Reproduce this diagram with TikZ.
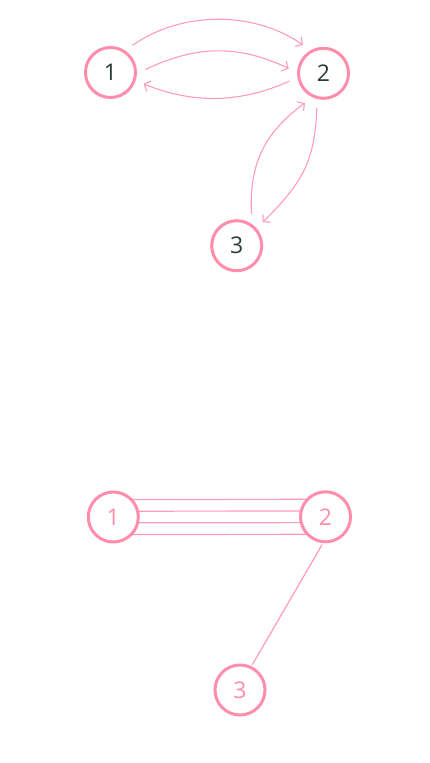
\documentclass[tikz,border=0pt]{standalone}
\usepackage{fontspec}
\setmainfont{Open Sans}
\usetikzlibrary{arrows.meta,backgrounds}
\definecolor{pinkc}{HTML}{FF8DAB}
\definecolor{pinkl}{HTML}{FF9CB8}
\definecolor{darktxt}{HTML}{2A3D36}
\tikzset{
  vnode/.style={circle, draw=pinkc, line width=3pt, fill=white, minimum size=50pt, inner sep=0pt,
    font=\fontsize{23}{23}\selectfont},
  topnode/.style={vnode, text=darktxt, outer sep=10pt},
  botnode/.style={vnode, text=pinkc, outer sep=3pt},
  arr/.style={draw=pinkl, line width=1.1pt, -{Straight Barb[length=5pt,width=11pt,line width=1.1pt]}},
  edgeline/.style={draw=pinkl, line width=1.2pt}
}
\begin{document}
\begin{tikzpicture}[x=1pt,y=-1pt]
\useasboundingbox (0,0) rectangle (430,763);
% top graph
\node[topnode] (n1) at (110.5,72.5) {1};
\node[topnode] (n2) at (323.5,73.3) {2};
\node[topnode] (n3) at (236.7,245.7) {3};
\draw[arr] (n1.51.5) .. controls +(35:60pt) and +(145:60pt) .. (n2.126);
\draw[arr] (n1.5) .. controls +(25:57pt) and +(155:57pt) .. (n2.172);
\draw[arr] (n2.193) .. controls +(204:53pt) and +(-22:55pt) .. (n1.341);
\draw[arr] (n3.65) .. controls +(93:50pt) and +(216:50pt) .. (n2.238);
\draw[arr] (n2.259) .. controls +(268:55pt) and +(45:55pt) .. (n3.42);
% bottom graph
\node[botnode] (b1) at (113.3,517) {1};
\node[botnode] (b2) at (325.5,516.8) {2};
\node[botnode] (b3) at (240,690) {3};
\begin{pgfonlayer}{background}
\foreach \d in {17.5,5.8,-5.8,-17.5}{
  \draw[edgeline] ([yshift=\d pt]b1.center) -- ([yshift=\d pt]b2.center);
}
\end{pgfonlayer}
\draw[edgeline] (b2.263) -- (b3.64);
\end{tikzpicture}
\end{document}
